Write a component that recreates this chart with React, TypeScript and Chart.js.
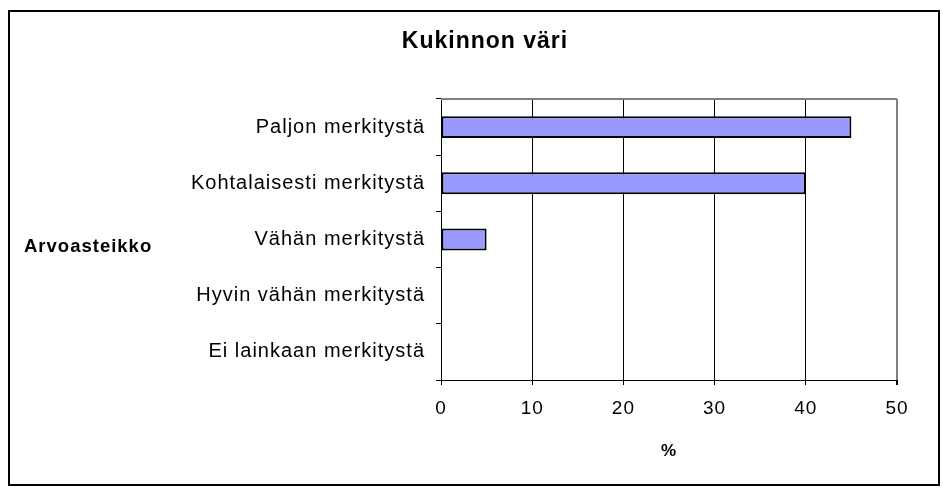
import React, { useEffect, useRef } from "react";
import { Chart, registerables } from "chart.js";

Chart.register(...registerables);

const chartTitle = "Kukinnon väri";
const categoryAxisTitle = "Arvoasteikko";
const valueAxisTitle = "%";
const categories = [
  "Paljon merkitystä",
  "Kohtalaisesti merkitystä",
  "Vähän merkitystä",
  "Hyvin vähän merkitystä",
  "Ei lainkaan merkitystä",
];
const percentages = [45, 40, 5, 0, 0];
const xMin = 0;
const xMax = 50;
const xStep = 10;

const FONT = "'Liberation Sans', Arial, sans-serif";

export default function App() {
  const ref = useRef<HTMLCanvasElement>(null);

  useEffect(() => {
    const canvas = ref.current;
    if (!canvas) return;

    const spacingPlugin = {
      id: "spacing",
      beforeDraw(chart: any) {
        (chart.ctx as any).letterSpacing = "1px";
      },
    };

    const framePlugin = {
      id: "frame",
      afterDraw(chart: any) {
        const { ctx, chartArea } = chart;
        ctx.save();
        ctx.strokeStyle = "#808080";
        ctx.lineWidth = 2;
        ctx.beginPath();
        ctx.moveTo(chartArea.left, chartArea.top);
        ctx.lineTo(chartArea.right, chartArea.top);
        ctx.stroke();
        ctx.fillStyle = "#000";
        (ctx as any).letterSpacing = "1px";
        ctx.font = `bold 18.5px ${FONT}`;
        ctx.textAlign = "left";
        ctx.textBaseline = "middle";
        ctx.fillText(categoryAxisTitle, 14, (chartArea.top + chartArea.bottom) / 2 + 7);
        ctx.font = `bold 23px ${FONT}`;
        ctx.textAlign = "center";
        ctx.fillText(chartTitle, chart.width / 2 + 11, 30);
        ctx.restore();
      },
    };

    const chart = new Chart(canvas, {
      type: "bar",
      data: {
        labels: categories,
        datasets: [
          {
            data: percentages,
            backgroundColor: "#9999ff",
            borderColor: "#000000",
            borderWidth: (c: any) => (c.raw === 0 ? 0 : 2),
            borderSkipped: false,
            barPercentage: 0.39,
            categoryPercentage: 1,
          },
        ],
      },
      options: {
        indexAxis: "y",
        responsive: false,
        animation: false,
        devicePixelRatio: 1,
        layout: { padding: { top: 87, right: 41, bottom: 0, left: 0 } },
        plugins: {
          legend: { display: false },
          tooltip: { enabled: false },
          title: { display: false },
        },
        scales: {
          x: {
            type: "linear",
            min: xMin,
            max: xMax,
            afterFit: (s: any) => {
              s.height = 104;
            },
            ticks: {
              stepSize: xStep,
              color: "#000",
              padding: 12,
              font: { family: FONT, size: 19 },
            },
            grid: {
              color: (c: any) => (c.tick && c.tick.value === xMax ? "#808080" : "#000"),
              lineWidth: (c: any) => (c.tick && c.tick.value === xMax ? 2 : 1),
              tickColor: "#000",
              tickLength: 5,
              drawTicks: true,
            },
            border: { display: true, color: "#000", width: 1 },
            title: {
              display: true,
              text: valueAxisTitle,
              color: "#000",
              font: { family: FONT, size: 17, weight: "bold" },
              padding: { top: 0, bottom: 22 },
            },
          },
          y: {
            type: "category",
            afterFit: (s: any) => {
              s.width = 431;
            },
            ticks: {
              color: "#000",
              padding: 11,
              font: { family: FONT, size: 20 },
            },
            grid: {
              display: true,
              drawOnChartArea: false,
              drawTicks: true,
              tickLength: 5,
              tickColor: "#000",
              offset: true,
            },
            border: { display: true, color: "#000", width: 1 },
          },
        },
      },
      plugins: [spacingPlugin, framePlugin],
    } as any);

    return () => chart.destroy();
  }, []);

  return (
    <div
      style={{
        marginTop: 2,
        width: 932,
        height: 476,
        border: "2px solid #000",
        boxSizing: "border-box",
        background: "#fff",
      }}
    >
      <canvas ref={ref} width={928} height={472} style={{ display: "block" }} />
    </div>
  );
}
